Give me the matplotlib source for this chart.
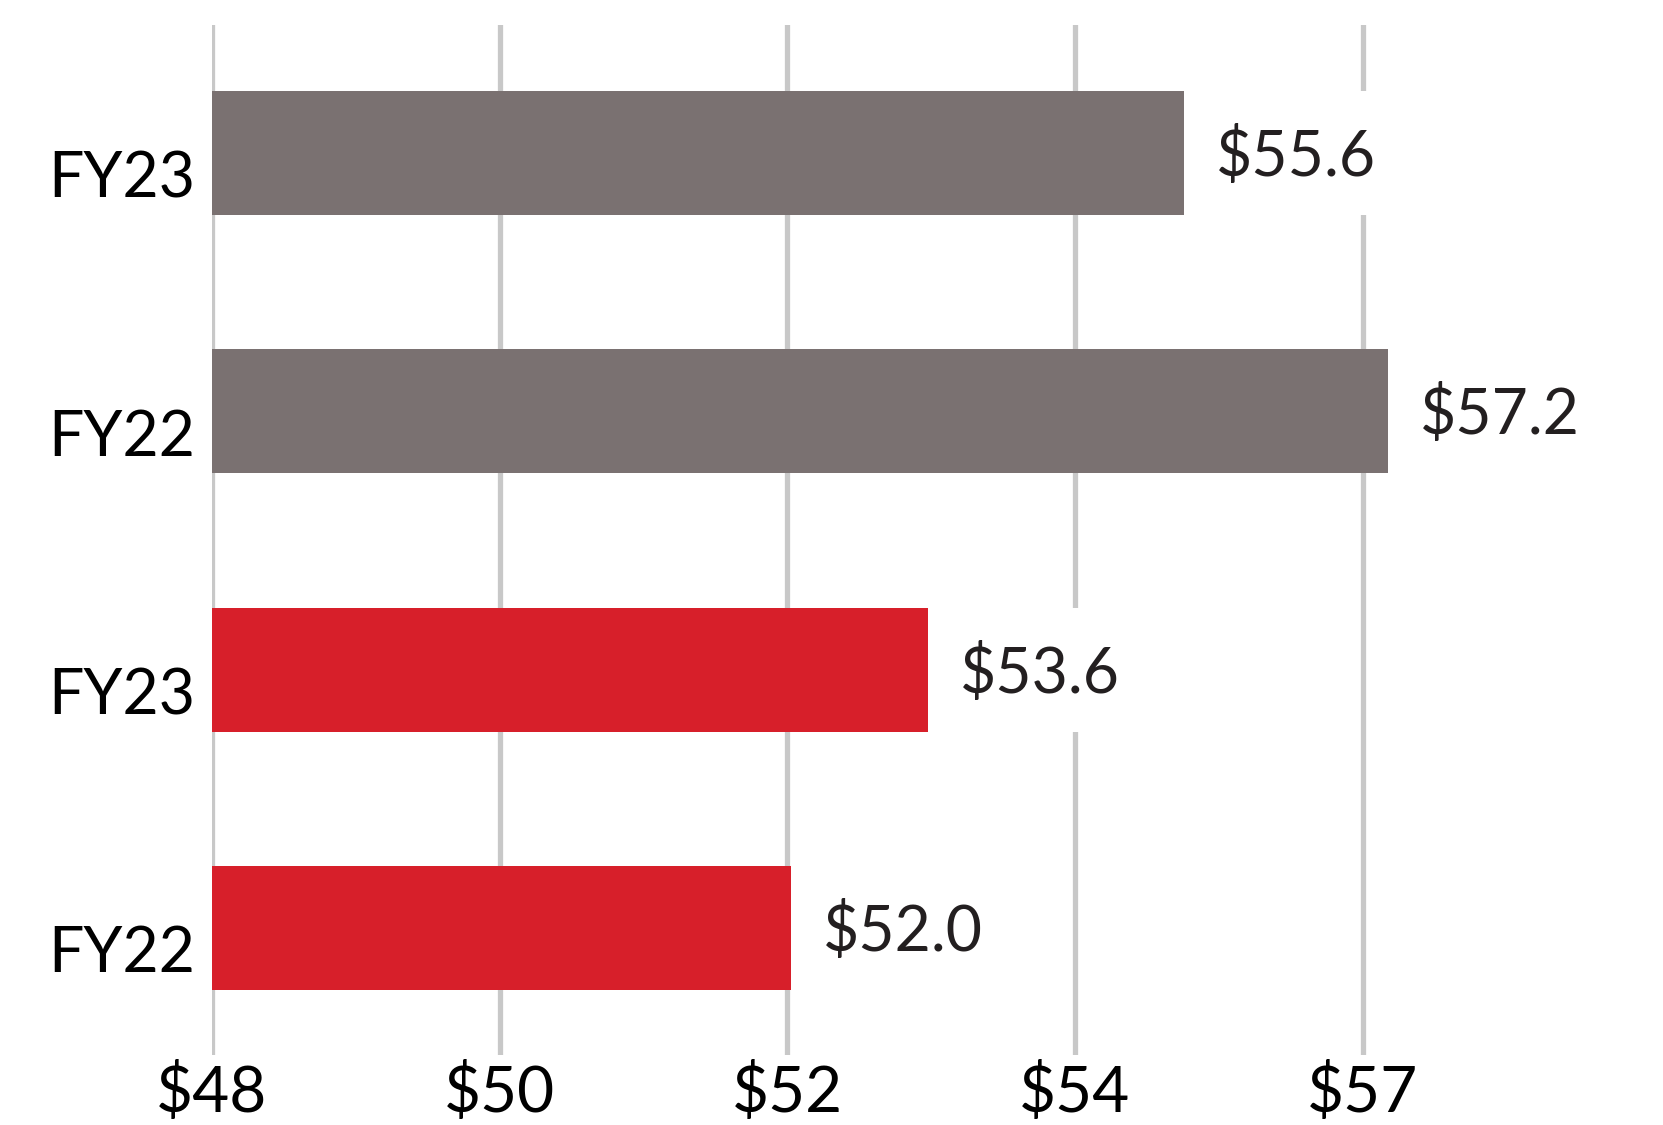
import matplotlib.pyplot as plt
from matplotlib.transforms import ScaledTranslation

# Category labels (bottom to top) and values
categories = ["FY22", "FY23", "FY22", "FY23"]
bar_values = [52.53, 53.6, 57.2, 55.6]          # bar lengths as drawn
value_labels = ["$52.0", "$53.6", "$57.2", "$55.6"]
bar_colors = ["#d71f2a", "#d71f2a", "#7a7171", "#7a7171"]

tick_positions = [48, 50.25, 52.5, 54.75, 57]
tick_labels = ["$48", "$50", "$52", "$54", "$57"]

plt.rcParams['font.family'] = ['Lato', 'DejaVu Sans']

fig = plt.figure(figsize=(16.63, 11.25), dpi=100)
ax = fig.add_axes([212 / 1663, 70 / 1125, (1663 - 212) / 1663, 1030 / 1125])

y = range(len(categories))
ax.barh(y, [v - 48 for v in bar_values], left=48, height=0.48,
        color=bar_colors, zorder=3)

# white boxes behind the value labels so the gridlines break there
ax.barh(y, [1.6] * len(bar_values), left=bar_values, height=0.48,
        color="white", zorder=2)

val_offset = ScaledTranslation(0, -4 / 100, fig.dpi_scale_trans)
for yi, v, lab in zip(y, bar_values, value_labels):
    ax.text(v + 0.25, yi, lab, va="center", ha="left", fontsize=45,
            color="#231f20", zorder=4, transform=ax.transData + val_offset)

ax.set_xlim(48, 59.35)
ax.set_ylim(-0.493, 3.497)
ax.set_xticks(tick_positions)
ax.set_xticklabels(tick_labels, fontsize=46, color="black")
ax.set_yticks(list(y))
ax.set_yticklabels(categories, fontsize=45, color="black")
ax.tick_params(axis="x", length=0, pad=6)
ax.tick_params(axis="y", length=0, pad=12)

# category labels sit a little below the bar centres
lab_offset = ScaledTranslation(0, -21 / 100, fig.dpi_scale_trans)
for lab in ax.get_yticklabels():
    lab.set_transform(lab.get_transform() + lab_offset)

ax.xaxis.grid(True, color="#c8c8c8", linewidth=3.8, zorder=1)
ax.set_axisbelow(True)
for s in ax.spines.values():
    s.set_visible(False)

fig.savefig("out.png", dpi=100)
